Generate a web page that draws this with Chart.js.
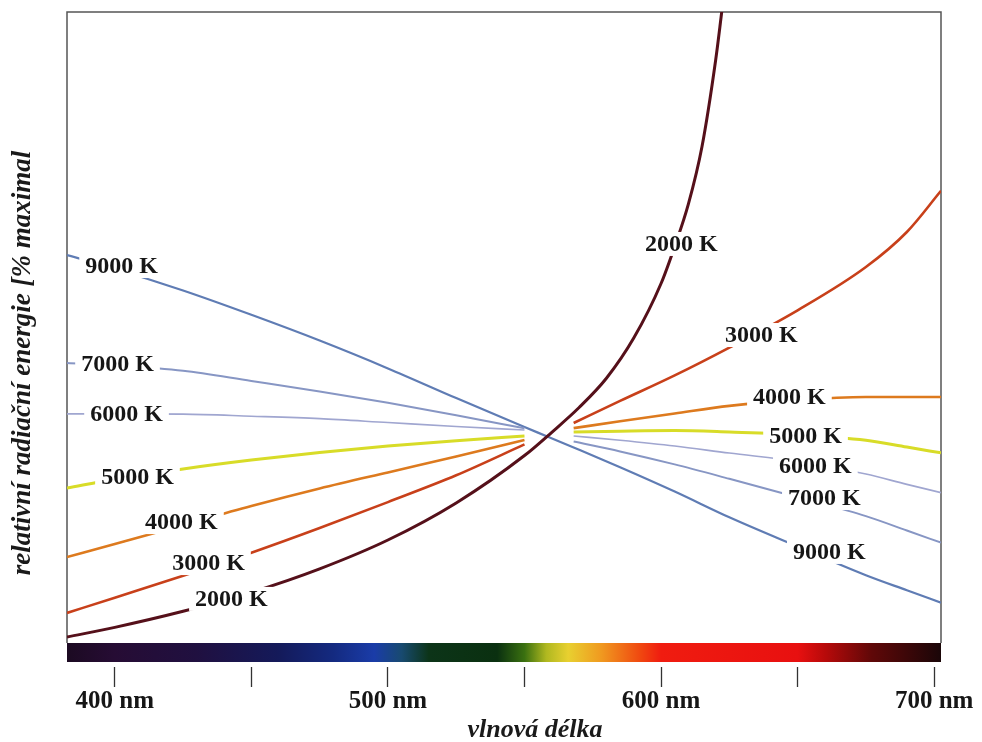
<!DOCTYPE html>
<html>
<head>
<meta charset="utf-8">
<script src="https://cdn.jsdelivr.net/npm/chart.js@4.4.1/dist/chart.umd.min.js"></script>
<style>
  html, body { margin: 0; padding: 0; background: #fff; }
  #wrap { width: 982px; height: 742px; }
</style>
</head>
<body>
<div id="wrap"><canvas id="chart" width="982" height="742"></canvas></div>
<script>
// wavelengths (nm) shared by the curves that meet near 555 nm
var wavelengths = [382.5, 400, 425, 450, 475, 500, 525, 550, 559, 568, 585, 605, 625, 650, 675, 690, 702.5];
// 2000 K runs off the top, so it has its own wavelengths
var wavelengths2000 = [382.5, 400, 425, 450, 475, 500, 525, 550, 560, 570, 580, 590, 600, 605, 610, 615, 620, 622, 624];

// relative radiant energy (100 = meeting point near 555 nm)
var k2000 = [2.9, 7.6, 15.4, 24.6, 36.0, 50.0, 68.0, 91.0, 102.3, 114.3, 128.5, 148.0, 174.5, 192.5, 213.0, 241.0, 283.0, 304.0, 326.0];
var k3000 = [14.6, 22.0, 32.6, 43.8, 55.8, 68.4, 81.4, 96.4, null, 106.8, 117.5, 129.9, 143.4, 161.5, 182.5, 199.5, 219.5];
var k4000 = [41.7, 48.0, 57.3, 66.5, 75.0, 82.8, 90.5, 98.5, null, 104.3, 107.6, 111.4, 115.1, 118.0, 119.4, 119.4, 119.4];
var k5000 = [75.2, 79.5, 84.5, 88.8, 92.5, 95.6, 98.2, 100.5, null, 102.4, 102.8, 103.1, 102.4, 101.1, 98.4, 95.1, 92.3];
var k6000 = [111.2, 111.2, 111.1, 110.1, 108.9, 107.0, 105.1, 103.4, null, 100.5, 98.4, 95.6, 92.2, 88.2, 82.0, 77.0, 73.0];
var k7000 = [135.9, 134.8, 132.2, 127.2, 122.1, 116.6, 110.6, 104.2, null, 97.8, 93.0, 86.7, 79.7, 70.7, 61.6, 54.6, 48.7];
var k9000 = [188.3, 181.7, 171.1, 159.3, 146.8, 133.3, 118.9, 104.8, 99.9, 94.9, 85.3, 73.5, 61.0, 46.8, 32.9, 25.6, 19.6];

var curveNames = ["2000 K", "3000 K", "4000 K", "5000 K", "6000 K", "7000 K", "9000 K"];

// x axis ticks and their labels
var xTicks = [400, 450, 500, 550, 600, 650, 700];
var xTickLabels = ["400 nm", "", "500 nm", "", "600 nm", "", "700 nm"];

// where each curve label sits: [wavelength, value]
var labelsLeft = [[442.7, 21.4], [434.3, 38.8], [424.4, 58.7], [408.3, 80.6], [404.3, 111.2], [401.0, 135.4], [402.5, 183.0]];
var labelsRight = [[607.4, 193.7], [636.7, 149.5], [647.0, 119.4], [652.9, 100.5], [656.5, 85.9], [659.8, 70.4], [661.6, 44.2]];

// colour stops of the spectrum strip: [wavelength, colour]
var spectrumStops = [
  [382.5, "#1c0a22"], [400, "#260c34"], [430, "#201040"], [460, "#141a5a"], [480, "#142a80"],
  [495, "#1a3ca8"], [505, "#184a70"], [515, "#0c3418"], [540, "#0a3010"], [550, "#3a7010"],
  [558, "#b0b820"], [566, "#e8d030"], [578, "#f09a20"], [592, "#f04a10"], [600, "#f01c10"],
  [650, "#e81010"], [660, "#b80a0a"], [677, "#600808"], [702.5, "#1a0608"]
];

var lineColors = ["#55101a", "#c8401a", "#dd7a1e", "#d8dc28", "#a0a6d0", "#8796c4", "#5f7cb4"];
var lineWidths = [3, 2.6, 2.6, 3, 1.6, 2, 2.2];

function toPoints(xs, ys) {
  var pts = new Array();
  for (let i = 0; i < xs.length; i++) {
    pts.push({ x: xs[i], y: ys[i] });
  }
  return pts;
}

var series = [
  toPoints(wavelengths2000, k2000),
  toPoints(wavelengths, k3000),
  toPoints(wavelengths, k4000),
  toPoints(wavelengths, k5000),
  toPoints(wavelengths, k6000),
  toPoints(wavelengths, k7000),
  toPoints(wavelengths, k9000)
];

var datasets = new Array();
for (let i = 0; i < series.length; i++) {
  datasets.push({
    label: curveNames[i],
    data: series[i],
    borderColor: lineColors[i],
    borderWidth: lineWidths[i],
    pointRadius: 0,
    cubicInterpolationMode: "monotone",
    spanGaps: false,
    fill: false
  });
}

var FONT = "'Liberation Serif', 'Times New Roman', serif";

// spectrum strip, frame, curve labels and axis titles
var decorPlugin = {
  id: "decor",
  beforeDatasetsDraw(chart) {
    var ctx = chart.ctx;
    var a = chart.chartArea;
    var xs = chart.scales.x;
    var barTop = a.bottom - 24, barBottom = a.bottom - 5;

    var grad = ctx.createLinearGradient(a.left, 0, a.right, 0);
    for (let s of spectrumStops) {
      var p = (xs.getPixelForValue(s[0]) - a.left) / (a.right - a.left);
      grad.addColorStop(Math.max(0, Math.min(1, p)), s[1]);
    }
    ctx.save();
    ctx.fillStyle = grad;
    ctx.fillRect(a.left, barTop, a.right - a.left, barBottom - barTop);

    ctx.strokeStyle = "#555";
    ctx.lineWidth = 1.5;
    ctx.beginPath();
    ctx.moveTo(a.left, barTop);
    ctx.lineTo(a.left, a.top);
    ctx.lineTo(a.right, a.top);
    ctx.lineTo(a.right, barTop);
    ctx.stroke();
    ctx.restore();
  },
  afterDatasetsDraw(chart) {
    var ctx = chart.ctx;
    var xs = chart.scales.x, ys = chart.scales.y;
    ctx.save();
    ctx.font = "bold 24px " + FONT;
    ctx.textAlign = "center";
    ctx.textBaseline = "middle";
    var all = [labelsLeft, labelsRight];
    for (let side of all) {
      for (let i = 0; i < side.length; i++) {
        var px = xs.getPixelForValue(side[i][0]);
        var py = ys.getPixelForValue(side[i][1]);
        var w = ctx.measureText(curveNames[i]).width;
        ctx.fillStyle = "#fff";
        ctx.fillRect(px - w / 2 - 6, py - 12, w + 12, 24);
        ctx.fillStyle = "#161616";
        ctx.fillText(curveNames[i], px, py + 1);
      }
    }
    ctx.restore();
  },
  afterDraw(chart) {
    var ctx = chart.ctx;
    ctx.save();
    ctx.fillStyle = "#1a1a1a";
    ctx.textAlign = "center";
    ctx.textBaseline = "middle";
    ctx.font = "italic bold 26px " + FONT;
    ctx.fillText("vlnová délka", 535, 730);
    ctx.font = "italic bold 27px " + FONT;
    ctx.translate(23, 363);
    ctx.rotate(-Math.PI / 2);
    ctx.fillText("relativní radiační energie [% maximal", 0, 0);
    ctx.restore();
  }
};

new Chart(document.getElementById("chart"), {
  type: "line",
  data: { datasets: datasets },
  options: {
    responsive: false,
    animation: false,
    layout: { padding: { top: 12, right: 41, bottom: 0, left: 0 } },
    plugins: { legend: { display: false }, tooltip: { enabled: false } },
    scales: {
      x: {
        type: "linear",
        min: 382.5,
        max: 702.5,
        afterBuildTicks: function (scale) {
          scale.ticks = xTicks.map(function (v) { return { value: v }; });
        },
        afterFit: function (scale) { scale.height = 75; },
        border: { display: false },
        grid: { drawOnChartArea: false, drawTicks: true, tickLength: 20, tickColor: "#333", tickWidth: 1.3 },
        ticks: {
          autoSkip: false,
          maxRotation: 0,
          padding: 0,
          color: "#161616",
          font: { family: FONT, size: 25, weight: "bold" },
          callback: function (value) {
            var idx = xTicks.indexOf(value);
            return idx >= 0 ? xTickLabels[idx] : "";
          }
        }
      },
      y: {
        type: "linear",
        min: -11.65,
        max: 306.3,
        afterFit: function (scale) { scale.width = 67; },
        border: { display: false },
        grid: { display: false },
        ticks: { display: false }
      }
    }
  },
  plugins: [decorPlugin]
});
</script>
</body>
</html>
